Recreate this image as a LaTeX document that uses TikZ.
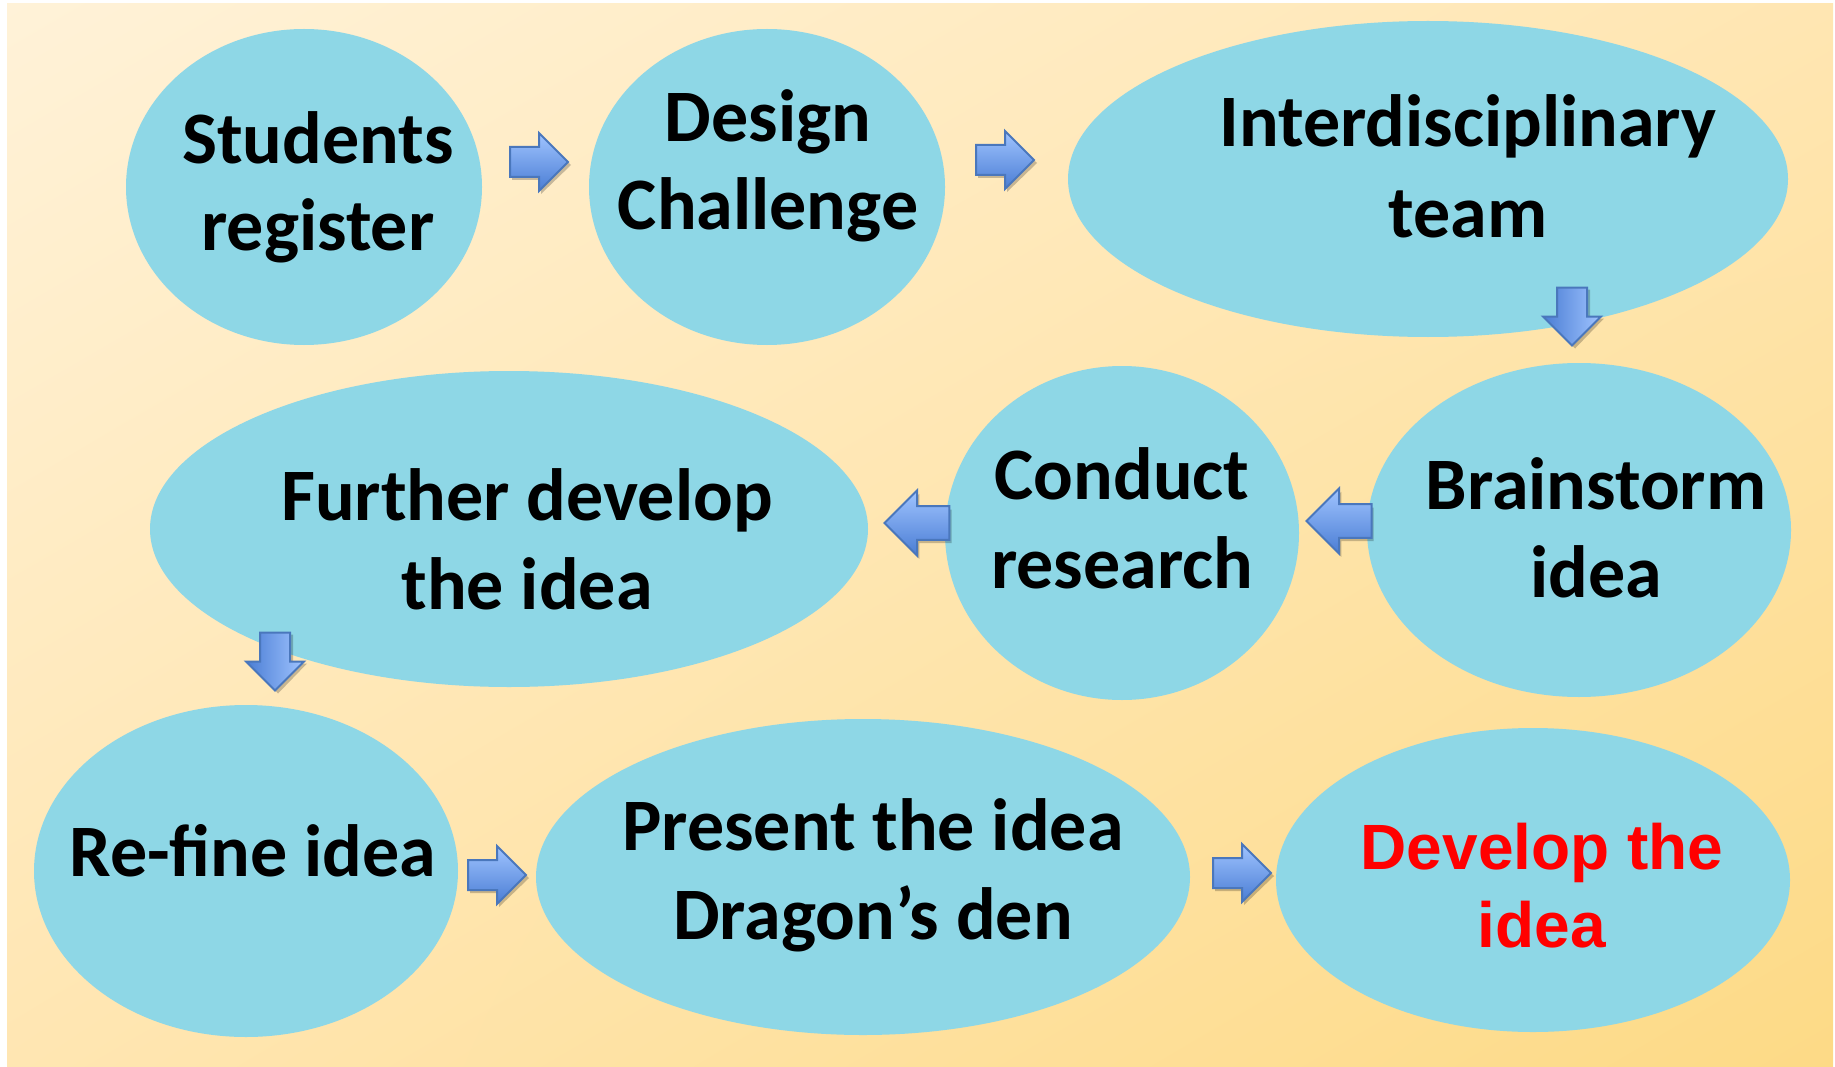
\documentclass[tikz,border=0pt]{standalone}
\usepackage{fontspec}
\setmainfont{Carlito}
\newfontfamily\redfont{Liberation Sans}
\usetikzlibrary{shapes.geometric,shadings}
\definecolor{bgA}{HTML}{FFF2D8}
\definecolor{bgB}{HTML}{FFE6B2}
\definecolor{bgC}{HTML}{FDDA86}
\definecolor{bubble}{RGB}{142,215,230}
\definecolor{arrL}{HTML}{A0C4FF}
\definecolor{arrD}{HTML}{4A7DD4}
\definecolor{arrB}{HTML}{4A77BC}
\definecolor{redtxt}{HTML}{FF0000}
\tikzset{
  bub/.style={ellipse, fill=bubble, inner sep=0pt},
  txt/.style={anchor=base, inner sep=0pt, font=\bfseries\fontsize{74}{90}\selectfont},
  redt/.style={anchor=base, inner sep=0pt, text=redtxt, font=\redfont\bfseries\fontsize{64}{78}\selectfont},
  arrline/.style={draw=arrB, line width=2pt, line join=miter},
  arrshadow/.style={fill=black, opacity=0.22}
}
\newcommand\rarrow[3]{%
  \begin{scope}[shift={(#1,#2)}, scale=#3]
    \fill[arrshadow] (-27,-12) -- (2,-12) -- (2,-26) -- (32,3) -- (2,32) -- (2,18) -- (-27,18) -- cycle;
    \path[arrline, top color=arrL, bottom color=arrD] (-29,-15) -- (0,-15) -- (0,-29) -- (29,0) -- (0,29) -- (0,15) -- (-29,15) -- cycle;
  \end{scope}}
\newcommand\larrow[3]{%
  \begin{scope}[shift={(#1,#2)}, scale=#3]
    \fill[arrshadow] (31,-12) -- (2,-12) -- (2,-26) -- (-27,3) -- (2,32) -- (2,18) -- (31,18) -- cycle;
    \path[arrline, top color=arrL, bottom color=arrD] (29,-15) -- (0,-15) -- (0,-29) -- (-29,0) -- (0,29) -- (0,15) -- (29,15) -- cycle;
  \end{scope}}
\newcommand\darrow[3]{%
  \begin{scope}[shift={(#1,#2)}, scale=#3]
    \fill[arrshadow] (-12,-27) -- (18,-27) -- (18,2) -- (32,2) -- (3,32) -- (-26,2) -- (-12,2) -- cycle;
    \path[arrline, left color=arrD, right color=arrL] (-15,-29) -- (15,-29) -- (15,0) -- (29,0) -- (0,29) -- (-29,0) -- (-15,0) -- cycle;
  \end{scope}}
\begin{document}
\begin{tikzpicture}[x=1pt,y=-1pt]
\useasboundingbox (0,0) rectangle (1835,1067);
\shade[upper left=bgA, upper right=bgB, lower left=bgB, lower right=bgC] (7,4) rectangle (1833,1067);

% bubbles
\node[bub, minimum width=356pt, minimum height=316pt] (e1) at (304,187) {};
\node[bub, minimum width=356pt, minimum height=316pt] (e2) at (767,187) {};
\node[bub, minimum width=720pt, minimum height=316pt] (e3) at (1428,179) {};
\node[bub, minimum width=424pt, minimum height=334pt] (e4) at (1579,530) {};
\node[bub, minimum width=354pt, minimum height=334pt] (e5) at (1122,533) {};
\node[bub, minimum width=718pt, minimum height=316pt] (e6) at (509,529) {};
\node[bub, minimum width=424pt, minimum height=332pt] (e7) at (246,871) {};
\node[bub, minimum width=654pt, minimum height=316pt] (e8) at (863,877) {};
\node[bub, minimum width=514pt, minimum height=304pt] (e9) at (1533,880) {};

% texts
\node[txt] (t1a) at (318,164) {Students};
\node[txt] (t1b) at (318,251) {register};
\node[txt] (t2a) at (768,142) {Design};
\node[txt] (t2b) at (768,230) {Challenge};
\node[txt] (t3a) at (1468,147) {Interdisciplinary};
\node[txt] (t3b) at (1468,237) {team};
\node[txt] (t4a) at (1596,509) {Brainstorm};
\node[txt] (t4b) at (1596,597) {idea};
\node[txt] (t5a) at (1122,499) {Conduct};
\node[txt] (t5b) at (1122,588) {research};
\node[txt] (t6a) at (527,520) {Further develop};
\node[txt] (t6b) at (527,609) {the idea};
\node[txt] (t7a) at (253,876) {Re-fine idea};
\node[txt] (t8a) at (873,850) {Present the idea};
\node[txt] (t8b) at (873,939) {Dragon’s den};
\node[redt] (t9a) at (1542,869) {Develop the};
\node[redt] (t9b) at (1542,947) {idea};

% block arrows
\rarrow{539}{162}{1}
\rarrow{1005}{160}{1}
\darrow{1572}{316.5}{1}
\larrow{1339}{521}{1.12}
\larrow{917}{523}{1.12}
\darrow{275}{661.5}{1}
\rarrow{497}{875}{1}
\rarrow{1242}{873}{1}
\end{tikzpicture}
\end{document}
